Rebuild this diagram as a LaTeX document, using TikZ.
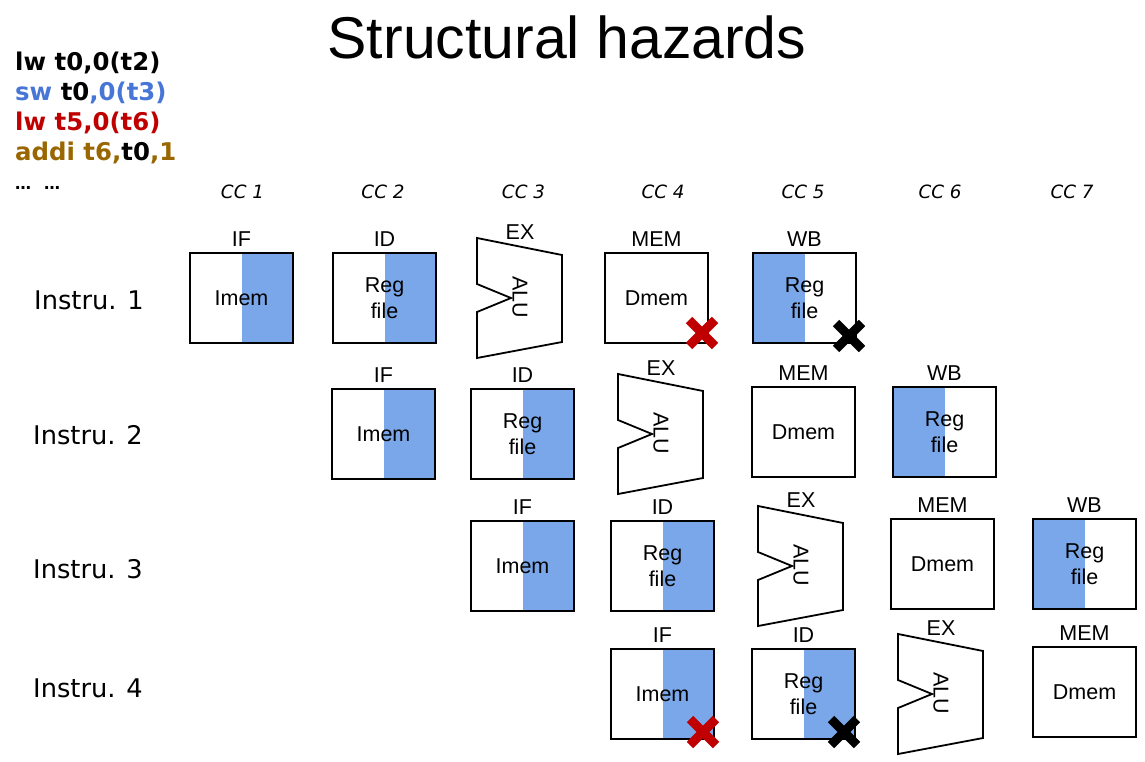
\documentclass[tikz,border=0pt]{standalone}
\usepackage{fontspec}
\setmainfont{Liberation Sans}
\newfontfamily\comicfont{DejaVu Sans}
\definecolor{stageblue}{RGB}{122,167,234}
\definecolor{codeblue}{RGB}{71,118,214}
\definecolor{codered}{RGB}{192,0,0}
\definecolor{codegold}{RGB}{153,102,0}
\newcommand\aluunit[3]{%
  \draw[alushape] (#2,#3) -- ++(85,17) -- ++(0,87) -- ++(-85,16) -- ++(0,-46) -- ++(34,-14) -- ++(-34,-14) -- cycle;
  \node[alutext] (#1) at ({#2+43},{#3+59}) {ALU};}
\newcommand\crossmark[3]{%
  \draw[xmarkline,#3] ({#1-13},{#2-13}) -- ({#1+13},{#2+13}) ({#1-13},{#2+13}) -- ({#1+13},{#2-13});}
\begin{document}
\begin{tikzpicture}[x=1pt,y=-1pt,
  box/.style={draw, line width=1.8pt, minimum width=103pt, minimum height=90pt, inner sep=0pt, outer sep=0pt, anchor=north west, align=center, font=\fontsize{21.5}{26}\selectfont},
  bright/.style={path picture={\fill[stageblue] (path picture bounding box.north) rectangle (path picture bounding box.south east);}},
  bleft/.style={path picture={\fill[stageblue] (path picture bounding box.north west) rectangle (path picture bounding box.south);}},
  stagelab/.style={anchor=base, inner sep=0pt, font=\fontsize{21.5}{26}\selectfont},
  alushape/.style={line width=1.8pt},
  alutext/.style={rotate=-90, inner sep=0pt, font=\fontsize{21.5}{26}\selectfont},
  xmarkline/.style={line width=9pt},
  cclab/.style={anchor=base, inner sep=0pt, font=\comicfont\itshape\fontsize{18.3}{22}\selectfont},
  instlab/.style={anchor=base west, inner sep=0pt, font=\comicfont\fontsize{25.7}{30}\selectfont},
  codelab/.style={anchor=base west, inner sep=0pt, font=\comicfont\bfseries\fontsize{24.4}{30}\selectfont},
]
\useasboundingbox (0,0) rectangle (1145,761);
\fill[white] (0,0) rectangle (1145,761);

% title
\node[anchor=base, inner sep=0pt, font=\fontsize{59}{70}\selectfont] (title) at (567,58) {Structural hazards};

% code
\node[codelab] (c1) at (15,70) {lw t0,0(t2)};
\node[codelab] (c2) at (15,100) {\textcolor{codeblue}{sw} t0\textcolor{codeblue}{,0(t3)}};
\node[codelab, text=codered] (c3) at (15,130) {lw t5,0(t6)};
\node[codelab] (c4) at (15,160) {\textcolor{codegold}{addi t6,}t0\textcolor{codegold}{,1}};
\node[codelab, font=\comicfont\bfseries\fontsize{16}{20}\selectfont] (c5) at (15,189) {…\hspace{13pt}…};

% clock cycles
\node[cclab] (cc1) at (242.5,198) {CC 1};
\node[cclab] (cc2) at (383,198) {CC 2};
\node[cclab] (cc3) at (523.5,198) {CC 3};
\node[cclab] (cc4) at (663,198) {CC 4};
\node[cclab] (cc5) at (803,198) {CC 5};
\node[cclab] (cc6) at (940,198) {CC 6};
\node[cclab] (cc7) at (1072,198) {CC 7};

% instruction labels
\node[instlab] (in1) at (34,309) {Instru. 1};
\node[instlab] (in2) at (33,444) {Instru. 2};
\node[instlab] (in3) at (33,578) {Instru. 3};
\node[instlab] (in4) at (33,697) {Instru. 4};

% row 1
\node[box,bright] (r1if) at (190,253) {Imem};
\node[box,bright] (r1id) at (333,253) {Reg\\file};
\aluunit{r1ex}{477}{238}
\node[box] (r1mem) at (605,253) {Dmem};
\node[box,bleft] (r1wb) at (753,253) {Reg\\file};
\node[stagelab] (l1if) at (241.5,246) {IF};
\node[stagelab] (l1id) at (384.5,246) {ID};
\node[stagelab] (l1ex) at (520,239) {EX};
\node[stagelab] (l1mem) at (656.5,246) {MEM};
\node[stagelab] (l1wb) at (804.5,246) {WB};

% row 2
\node[box,bright] (r2if) at (332,389) {Imem};
\node[box,bright] (r2id) at (471,389) {Reg\\file};
\aluunit{r2ex}{618}{374}
\node[box] (r2mem) at (752,387) {Dmem};
\node[box,bleft] (r2wb) at (893,387) {Reg\\file};
\node[stagelab] (l2if) at (383.5,382) {IF};
\node[stagelab] (l2id) at (522.5,382) {ID};
\node[stagelab] (l2ex) at (661,375) {EX};
\node[stagelab] (l2mem) at (803.5,380) {MEM};
\node[stagelab] (l2wb) at (944.5,380) {WB};

% row 3
\node[box,bright] (r3if) at (471,521) {Imem};
\node[box,bright] (r3id) at (611,521) {Reg\\file};
\aluunit{r3ex}{758}{506}
\node[box] (r3mem) at (891,519) {Dmem};
\node[box,bleft] (r3wb) at (1033,519) {Reg\\file};
\node[stagelab] (l3if) at (522.5,514) {IF};
\node[stagelab] (l3id) at (662.5,514) {ID};
\node[stagelab] (l3ex) at (801,507) {EX};
\node[stagelab] (l3mem) at (942.5,512) {MEM};
\node[stagelab] (l3wb) at (1084.5,512) {WB};

% row 4
\node[box,bright] (r4if) at (611,649) {Imem};
\node[box,bright] (r4id) at (752,649) {Reg\\file};
\aluunit{r4ex}{898}{634}
\node[box] (r4mem) at (1033,647) {Dmem};
\node[stagelab] (l4if) at (662.5,642) {IF};
\node[stagelab] (l4id) at (803.5,642) {ID};
\node[stagelab] (l4ex) at (941,635) {EX};
\node[stagelab] (l4mem) at (1084.5,640) {MEM};

% hazard marks
\crossmark{702}{333}{codered}
\crossmark{849}{336}{black}
\crossmark{703}{732}{codered}
\crossmark{844}{732}{black}
\end{tikzpicture}
\end{document}
